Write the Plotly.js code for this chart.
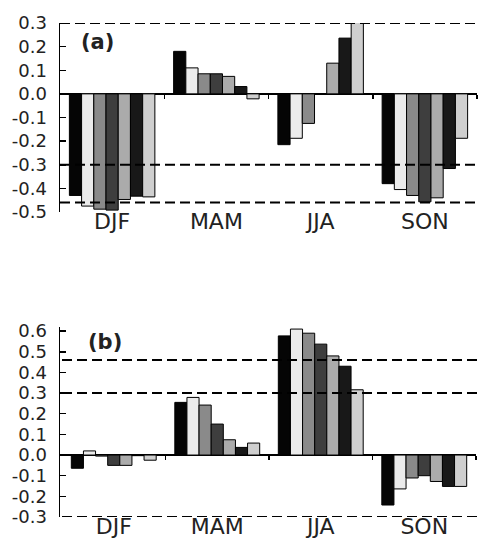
<!DOCTYPE html>
<html>
<head>
<meta charset="utf-8">
<script src="https://cdn.plot.ly/plotly-3.0.1.min.js"></script>
<style>html,body{margin:0;padding:0;background:#fff;}#chart{width:479px;height:538px;}</style>
</head>
<body>
<div id="chart"></div>
<script>
// ---- data ----
var seasons = ['DJF', 'MAM', 'JJA', 'SON'];

// panel (a): seven bars per season
var a1 = [-0.43, 0.18, -0.215, -0.38];
var a2 = [-0.475, 0.11, -0.188, -0.405];
var a3 = [-0.488, 0.085, -0.125, -0.43];
var a4 = [-0.492, 0.085, 0.0, -0.457];
var a5 = [-0.447, 0.074, 0.13, -0.44];
var a6 = [-0.433, 0.031, 0.236, -0.316];
var a7 = [-0.436, -0.021, 0.305, -0.188];

// panel (b)
var b1 = [-0.064, 0.255, 0.577, -0.242];
var b2 = [0.02, 0.279, 0.61, -0.164];
var b3 = [-0.005, 0.242, 0.59, -0.111];
var b4 = [-0.05, 0.15, 0.537, -0.10];
var b5 = [-0.05, 0.074, 0.48, -0.128];
var b6 = [-0.003, 0.037, 0.43, -0.152];
var b7 = [-0.025, 0.058, 0.316, -0.152];

// significance levels (dashed lines)
var levelsA = [0.3, -0.3, -0.46];
var levelsB = [0.46, 0.3, -0.3];

// axis ticks
var yTickValsA = [0.3, 0.2, 0.1, 0.0, -0.1, -0.2, -0.3, -0.4, -0.5];
var yTickTextA = ['0.3', '0.2', '0.1', '0.0', '-0.1', '-0.2', '-0.3', '-0.4', '-0.5'];
var yTickValsB = [0.6, 0.5, 0.4, 0.3, 0.2, 0.1, 0.0, -0.1, -0.2, -0.3];
var yTickTextB = ['0.6', '0.5', '0.4', '0.3', '0.2', '0.1', '0.0', '-0.1', '-0.2', '-0.3'];
var boundaries = [0.5, 1.5, 2.5, 3.5];

// ---- styling ----
var fills = ['#050505', '#ebebeb', '#8a8a8a', '#3e3e3e', '#ababab', '#181818', '#cfcfcf'];
var W = 479, H = 538;
var domA = {x: [60 / W, 477 / W], y: [1 - 212 / H, 1 - 23 / H]};
var domB = {x: [62 / W, 476 / W], y: [1 - 517 / H, 1 - 327 / H]};
var rangeA = [-0.5, 0.3];
var rangeB = [-0.3, 0.62];
var xRange = [-0.5, 3.5];
var idx = [0, 1, 2, 3];

var seriesA = [a1, a2, a3, a4, a5, a6, a7];
var seriesB = [b1, b2, b3, b4, b5, b6, b7];

var traces = [];
seriesA.forEach(function (s, i) {
  traces.push({type: 'bar', x: idx, y: s, xaxis: 'x', yaxis: 'y', showlegend: false,
    marker: {color: fills[i], line: {color: '#000', width: 1}}, offsetgroup: 'g' + i});
});
seriesB.forEach(function (s, i) {
  traces.push({type: 'bar', x: idx, y: s, xaxis: 'x2', yaxis: 'y2', showlegend: false,
    marker: {color: fills[i], line: {color: '#000', width: 1}}, offsetgroup: 'g' + i});
});
// dummy traces to register the zero-line tick axes
traces.push({type: 'scatter', x: [null], y: [null], xaxis: 'x3', yaxis: 'y', showlegend: false, hoverinfo: 'skip'});
traces.push({type: 'scatter', x: [null], y: [null], xaxis: 'x4', yaxis: 'y2', showlegend: false, hoverinfo: 'skip'});

function zeroPos(dom, rng) {
  return dom.y[0] + (0 - rng[0]) / (rng[1] - rng[0]) * (dom.y[1] - dom.y[0]);
}

var tickFont = {family: 'DejaVu Sans, sans-serif', size: 18, color: '#222'};
var catFont = {family: 'DejaVu Sans, sans-serif', size: 22, color: '#222'};

function yAx(dom, rng, vals, text) {
  return {domain: dom.y, range: rng, showline: true, linecolor: '#000', linewidth: 1.5,
    ticks: 'inside', ticklen: 6, tickwidth: 1.5, tickcolor: '#000',
    tickvals: vals, ticktext: text, tickfont: tickFont, ticklabelstandoff: 8,
    showgrid: false, zeroline: true, zerolinecolor: '#000', zerolinewidth: 1.5, fixedrange: true};
}
function xCat(dom, anchor) {
  return {domain: dom.x, range: xRange, anchor: anchor, showline: false, ticks: '',
    tickvals: idx, ticktext: seasons, tickfont: catFont, showgrid: false, zeroline: false,
    ticklabelstandoff: -6};
}
function xZero(dom, rng, over) {
  return {domain: dom.x, range: xRange, overlaying: over, anchor: 'free', position: zeroPos(dom, rng),
    showline: false, ticks: 'outside', ticklen: 4, tickwidth: 1.5, tickcolor: '#000',
    tickvals: boundaries, showticklabels: false, showgrid: false, zeroline: false};
}

var shapes = [];
levelsA.forEach(function (v) {
  shapes.push({type: 'line', xref: 'paper', yref: 'y', x0: domA.x[0], x1: 1, y0: v, y1: v,
    line: {color: '#000', width: 2, dash: '10px,5px'}});
});
levelsB.forEach(function (v) {
  shapes.push({type: 'line', xref: 'paper', yref: 'y2', x0: domB.x[0], x1: 1, y0: v, y1: v,
    line: {color: '#000', width: 2, dash: '10px,5px'}});
});

var labFont = {family: 'DejaVu Sans, sans-serif', size: 21, color: '#222', weight: 'bold'};
var layout = {
  width: W, height: H,
  margin: {l: 0, r: 0, t: 0, b: 0},
  paper_bgcolor: '#fff', plot_bgcolor: 'rgba(0,0,0,0)',
  barmode: 'group', bargap: 0.18, bargroupgap: 0,
  showlegend: false,
  xaxis: xCat(domA, 'y'),
  yaxis: yAx(domA, rangeA, yTickValsA, yTickTextA),
  xaxis2: xCat(domB, 'y2'),
  yaxis2: yAx(domB, rangeB, yTickValsB, yTickTextB),
  xaxis3: xZero(domA, rangeA, 'x'),
  xaxis4: xZero(domB, rangeB, 'x2'),
  shapes: shapes,
  annotations: [
    {text: '(a)', xref: 'paper', yref: 'paper', x: 97 / W, y: 1 - 42 / H, showarrow: false,
      xanchor: 'center', yanchor: 'middle', font: labFont},
    {text: '(b)', xref: 'paper', yref: 'paper', x: 105 / W, y: 1 - 342 / H, showarrow: false,
      xanchor: 'center', yanchor: 'middle', font: labFont}
  ]
};

Plotly.newPlot('chart', traces, layout, {displayModeBar: false, staticPlot: true});
</script>
</body>
</html>
